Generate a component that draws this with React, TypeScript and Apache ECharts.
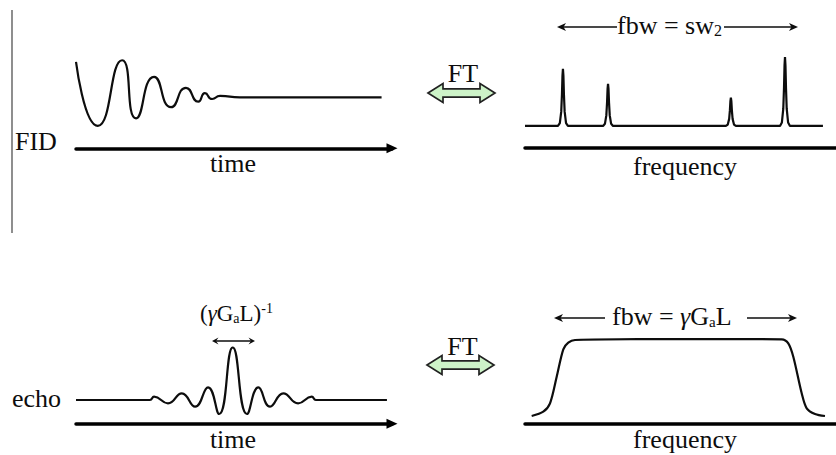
import React, { useEffect, useRef } from "react";
import * as echarts from "echarts";

// FID: extrema of the decaying oscillation (time in arb. units, normalised amplitude)
const fidTime = [0, 0.69, 1.46, 1.9, 2.47, 3.01, 3.48, 3.87, 4.08, 4.31, 4.56, 5.19, 9.67];
const fidAmp = [1.04, -0.84, 1.09, -0.62, 0.6, -0.29, 0.28, -0.13, 0.12, -0.05, 0.04, 0, 0];

// Spectrum: line positions (frequency, arb. units 0..100) and intensities
const peakFreq = [12.2, 26.7, 66.2, 83.6];
const peakHeight = [83, 61, 41, 100];
// narrow line shape: offsets from the line centre and relative level
const lineOffset = [-1.6, -1.0, -0.55, -0.32, -0.15, 0, 0.15, 0.32, 0.55, 1.0, 1.6];
const lineLevel = [0, 0.05, 0.25, 0.55, 0.88, 1, 0.88, 0.55, 0.25, 0.05, 0];
const spectrumRange = [0, 95.8];

// Echo: extrema of the sinc-like echo
const echoTime = [0, 2.34, 2.47, 2.91, 3.35, 3.77, 4.18, 4.53, 4.96, 5.41, 5.77, 6.14, 6.56, 7.03, 7.46, 7.59, 9.84];
const echoAmp = [0, 0, 0.063, -0.063, 0.127, -0.127, 0.24, -0.266, 1, -0.266, 0.24, -0.127, 0.127, -0.063, 0.063, 0, 0];

// Frequency profile of the echo (flat-topped band)
const profileFreq = [2.15, 5.88, 8.04, 10.19, 12.32, 13.92, 16.08, 50, 82.54, 84.66, 86.27, 88.97, 90.58, 93.25, 96.46];
const profileAmp = [0, 0.056, 0.165, 0.51, 0.866, 0.952, 0.987, 1.0, 0.996, 0.944, 0.77, 0.295, 0.1, 0.026, 0];

const FONT = '"Liberation Serif", "DejaVu Serif", serif';
const INK = "#0d0d0d";

function label(text: string, x: number, y: number, size: number, align = "left") {
  return {
    type: "text",
    x,
    y,
    silent: true,
    style: {
      text,
      fontSize: size,
      fontFamily: FONT,
      fill: INK,
      align,
      textAlign: align,
      verticalAlign: "middle",
      textVerticalAlign: "middle",
    },
  };
}

function richLabel(text: string, x: number, y: number, rich: any) {
  return {
    type: "text",
    x,
    y,
    silent: true,
    style: {
      text,
      fontFamily: FONT,
      fill: INK,
      align: "left",
      textAlign: "left",
      verticalAlign: "middle",
      textVerticalAlign: "middle",
      rich,
    },
  };
}

// green double-headed "FT" arrow
function ftArrow(cx: number, cy: number) {
  const L = 33.5, H = 15, hh = 9.5, sh = 4.2;
  return {
    type: "polygon",
    x: cx,
    y: cy,
    silent: true,
    shape: {
      points: [
        [-L, 0], [-L + H, -hh], [-L + H, -sh], [L - H, -sh], [L - H, -hh],
        [L, 0], [L - H, hh], [L - H, sh], [-L + H, sh], [-L + H, hh],
      ],
    },
    style: { fill: "#cdf3c8", stroke: "#222", lineWidth: 1.7 },
  };
}

function hLine(x1: number, x2: number, y: number, w = 1.5) {
  return {
    type: "line",
    silent: true,
    shape: { x1, y1: y, x2, y2: y },
    style: { stroke: INK, lineWidth: w },
  };
}

// thin arrow head, dir = -1 points left, +1 points right
function head(tipX: number, y: number, dir: number, len = 9, half = 4) {
  return {
    type: "polygon",
    x: tipX,
    y,
    silent: true,
    shape: {
      points: [[0, 0], [-dir * len, -half], [-dir * (len - 2.5), 0], [-dir * len, half]],
    },
    style: { fill: INK },
  };
}

const xAxisBase = (gridIndex: number, min: number, max: number, arrow: boolean) => ({
  type: "value",
  gridIndex,
  min,
  max,
  axisTick: { show: false },
  axisLabel: { show: false },
  splitLine: { show: false },
  axisLine: {
    show: true,
    onZero: false,
    symbol: arrow ? ["none", "triangle"] : ["none", "none"],
    symbolSize: [10, 11],
    lineStyle: { color: "#000", width: 3.5 },
  },
});

const yAxisBase = (gridIndex: number, min: number, max: number) => ({
  type: "value",
  gridIndex,
  min,
  max,
  show: false,
});

const lineSeries = (idx: number, data: number[][], smooth: boolean | number) => ({
  type: "line",
  xAxisIndex: idx,
  yAxisIndex: idx,
  data,
  smooth,
  symbol: "none",
  silent: true,
  lineStyle: { color: INK, width: 2.2 },
});

export default function App() {
  const ref = useRef<HTMLDivElement>(null);

  useEffect(() => {
    if (!ref.current) return;
    const chart = echarts.init(ref.current, undefined, { renderer: "svg" });

    const spectrumData: number[][] = [[spectrumRange[0], 0]];
    peakFreq.forEach((f, i) => {
      lineOffset.forEach((o, j) => spectrumData.push([f + o, peakHeight[i] * lineLevel[j]]));
    });
    spectrumData.push([spectrumRange[1], 0]);

    const fidData = fidTime.map((t, i) => [t, fidAmp[i]]);
    const echoData = echoTime.map((t, i) => [t, echoAmp[i]]);
    const profileData = profileFreq.map((f, i) => [f, profileAmp[i]]);

    const subRich = {
      m: { fontSize: 26, fontFamily: FONT, lineHeight: 26 },
      g: { fontSize: 26, fontFamily: FONT, lineHeight: 26, fontStyle: "italic" },
      s: { fontSize: 16, fontFamily: FONT, lineHeight: 12, verticalAlign: "bottom" },
      a: { fontSize: 15, fontFamily: FONT, lineHeight: 14, verticalAlign: "bottom" },
    };
    const smallRich = {
      m: { fontSize: 23, fontFamily: FONT, lineHeight: 24 },
      g: { fontSize: 23, fontFamily: FONT, lineHeight: 24, fontStyle: "italic" },
      a: { fontSize: 14, fontFamily: FONT, lineHeight: 13, verticalAlign: "bottom" },
      p: { fontSize: 14, fontFamily: FONT, lineHeight: 10, verticalAlign: "top" },
    };

    chart.setOption({
      animation: false,
      backgroundColor: "#fff",
      grid: [
        { left: 76, top: 46.3, width: 316, height: 102 },
        { left: 525, top: 57, width: 311, height: 91 },
        { left: 76, top: 347.3, width: 316, height: 76.4 },
        { left: 525, top: 339, width: 311, height: 84.7 },
      ],
      xAxis: [
        xAxisBase(0, 0, 10, true),
        xAxisBase(1, 0, 100, false),
        xAxisBase(2, 0, 10, true),
        xAxisBase(3, 0, 100, false),
      ],
      yAxis: [
        yAxisBase(0, -1.5, 1.5),
        yAxisBase(1, -32, 100),
        yAxisBase(2, -0.45, 1),
        yAxisBase(3, -0.1, 1),
      ],
      series: [
        lineSeries(0, fidData, 0.6),
        lineSeries(1, spectrumData, false),
        lineSeries(2, echoData, 0.5),
        lineSeries(3, profileData, 0.3),
      ],
      graphic: [
        {
          type: "line",
          silent: true,
          shape: { x1: 12, y1: 10, x2: 12, y2: 233 },
          style: { stroke: "#444", lineWidth: 1.2 },
        },
        label("FID", 15, 141.5, 26),
        label("time", 233, 163, 26, "center"),
        label("frequency", 685, 166, 26, "center"),
        label("echo", 12, 398, 26),
        label("time", 233, 439, 26, "center"),
        label("frequency", 685, 439, 26, "center"),

        ftArrow(461.5, 93),
        label("FT", 463, 73.5, 26, "center"),
        ftArrow(460.5, 365),
        label("FT", 462.5, 346, 26, "center"),

        // fbw = sw2 span
        head(557, 27, -1),
        hLine(560, 617, 27),
        richLabel("{m|fbw = sw}{s|2}", 617, 25, subRich),
        hLine(724, 795, 27),
        head(798, 27, 1),

        // fbw = γGaL span
        head(554, 318, -1),
        hLine(557, 605, 318),
        richLabel("{m|fbw = }{g|γ}{m|G}{a|a}{m|L}", 612, 316, subRich),
        hLine(747, 794, 318),
        head(797, 318, 1),

        // (γGaL)^-1 width of the echo
        richLabel("{m|(}{g|γ}{m|G}{a|a}{m|L)}{p|-1}", 200, 313, smallRich),
        head(212, 341, -1, 6.5, 3.5),
        hLine(214, 253, 341, 1.4),
        head(255, 341, 1, 6.5, 3.5),
      ],
    });

    return () => chart.dispose();
  }, []);

  return (
    <div
      ref={ref}
      style={{ position: "fixed", left: 0, top: 0, width: 836, height: 455, background: "#fff" }}
    />
  );
}
